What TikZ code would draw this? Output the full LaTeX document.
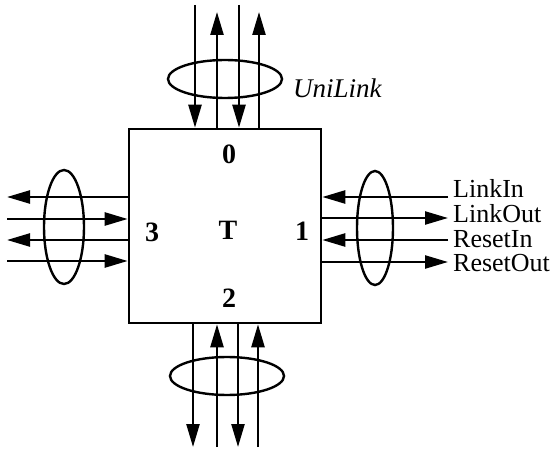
\documentclass[tikz,border=0pt]{standalone}
\usepackage{fontspec}
\setmainfont{Liberation Serif}
\usetikzlibrary{arrows.meta,calc,shapes.geometric}
\begin{document}
\begin{tikzpicture}[x=1pt,y=-1pt,
  sig/.style={line width=2.4pt,-{Triangle[length=23pt,width=13pt]}},
  ring/.style={draw,ellipse,line width=2.4pt,inner sep=0pt},
  port/.style={font=\fontsize{28}{28}\selectfont\bfseries,inner sep=0pt},
  lbl/.style={font=\fontsize{26}{26}\selectfont,anchor=base west,inner sep=0pt}]
\useasboundingbox (0,0) rectangle (552,449);
% central box
\node[draw,line width=2.6pt,minimum width=192pt,minimum height=194pt,inner sep=0pt] (T) at (225,226) {};
% port labels
\node[port] (lT) at (228,230) {T};
\node[port] (l0) at (229,154) {0};
\node[port] (l1) at (302,231) {1};
\node[port] (l2) at (229,298) {2};
\node[port] (l3) at (152,232) {3};
% ellipses
\node[ring,minimum width=114pt,minimum height=38pt] (e0) at (225,79) {};
\node[ring,minimum width=114pt,minimum height=38pt] (e2) at (227,376) {};
\node[ring,minimum width=36pt,minimum height=114pt] (e1) at (375,228) {};
\node[ring,minimum width=40pt,minimum height=114pt] (e3) at (64,227) {};
% free ends, top
\coordinate (ta) at (195,5);
\coordinate (tb) at (217,12);
\coordinate (tc) at (239,5);
\coordinate (td) at (259,12);
% free ends, bottom
\coordinate (ba) at (193,447);
\coordinate (bb) at (217,447);
\coordinate (bc) at (238,447);
\coordinate (bd) at (258,447);
% free ends, right
\coordinate (ra) at (448,197);
\coordinate (rb) at (448,218);
\coordinate (rc) at (448,240);
\coordinate (rd) at (448,262);
% free ends, left
\coordinate (la) at (7,197);
\coordinate (lb) at (7,219);
\coordinate (lc) at (7,240);
\coordinate (ld) at (7,261);
% top links
\draw[sig] (ta) -- (ta |- T.north);
\draw[sig] (tb |- T.north) -- (tb);
\draw[sig] (tc) -- (tc |- T.north);
\draw[sig] (td |- T.north) -- (td);
% bottom links
\draw[sig] (ba |- T.south) -- (ba);
\draw[sig] (bb) -- (bb |- T.south);
\draw[sig] (bc |- T.south) -- (bc);
\draw[sig] (bd) -- (bd |- T.south);
% right links
\draw[sig] (ra) -- (ra -| T.east);
\draw[sig] (rb -| T.east) -- (rb);
\draw[sig] (rc) -- (rc -| T.east);
\draw[sig] (rd -| T.east) -- (rd);
% left links
\draw[sig] (la -| T.west) -- (la);
\draw[sig] (lb) -- (lb -| T.west);
\draw[sig] (lc -| T.west) -- (lc);
\draw[sig] (ld) -- (ld -| T.west);
% labels
\node[font=\fontsize{27}{27}\selectfont\itshape,anchor=base west,inner sep=0pt] (uni) at (293,98) {UniLink};
\node[lbl] (n1) at (453,198) {LinkIn};
\node[lbl] (n2) at (453,223) {LinkOut};
\node[lbl] (n3) at (453,248) {ResetIn};
\node[lbl] (n4) at (453,272) {ResetOut};
\end{tikzpicture}
\end{document}
